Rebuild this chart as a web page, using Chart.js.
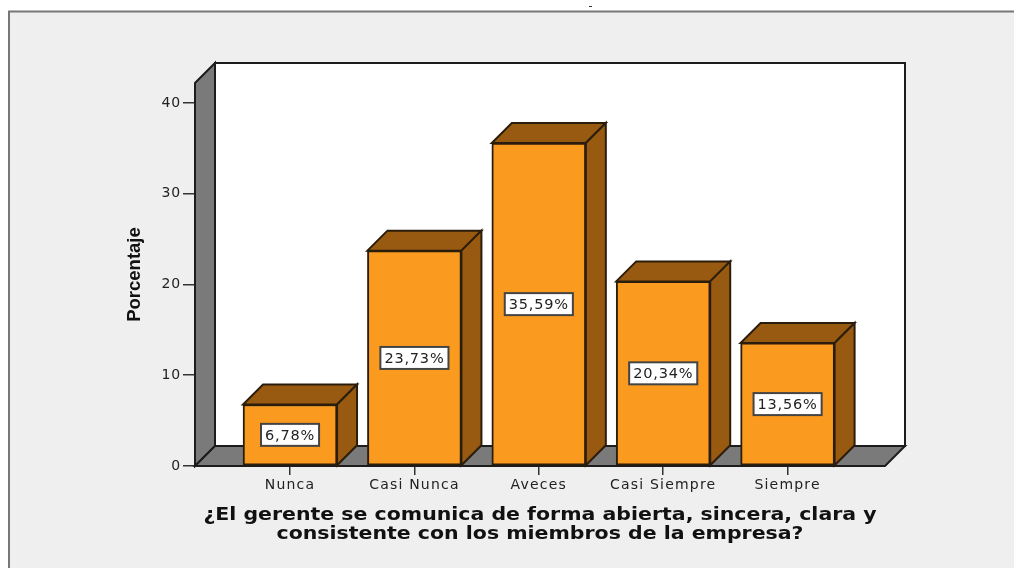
<!DOCTYPE html>
<html><head><meta charset="utf-8">
<script src="https://cdn.jsdelivr.net/npm/chart.js@4"></script>
<style>html,body{margin:0;padding:0;background:#fff}canvas{display:block}</style>
</head><body><canvas id="c" width="1014" height="568"></canvas>
<script>
const categories = ['Nunca','Casi Nunca','Aveces','Casi Siempre','Siempre'];
const percentages = [6.78,23.73,35.59,20.34,13.56];
const yTicks = [0,10,20,30,40];
const xTitleLines = ['¿El gerente se comunica de forma abierta, sincera, clara y','consistente con los miembros de la empresa?'];
const yTitle = 'Porcentaje';

const DEPTH = 20, ORANGE='#FA9A1E', BROWN='#985A10', GRAY='#7A7A7A', LINE='#2B1D0C';

function poly(ctx, pts, fill, stroke, lw){
  ctx.beginPath();
  pts.forEach((p,i)=> i?ctx.lineTo(p[0],p[1]):ctx.moveTo(p[0],p[1]));
  ctx.closePath();
  if(fill){ctx.fillStyle=fill;ctx.fill();}
  if(stroke){ctx.strokeStyle=stroke;ctx.lineWidth=lw||2;ctx.lineJoin='miter';ctx.stroke();}
}
function spaced(scale, method, sp){
  const orig = scale[method];
  scale[method] = function(a){
    const c=this.ctx; c.save(); c.letterSpacing=sp;
    orig.call(this,a);
    c.restore();
  };
}
function stretchedTitle(scale, k){
  const orig = scale.drawTitle;
  scale.drawTitle = function(a){
    const c=this.ctx, cx=(this.left+this.right)/2;
    c.save(); c.translate(cx,0); c.scale(k,1); c.translate(-cx,0);
    orig.call(this,a);
    c.restore();
  };
}
const frame = {
  id:'frame',
  afterLayout(chart){
    if(chart.$spaced) return; chart.$spaced=true;
    spaced(chart.scales.x,'drawLabels','1.2px');
    spaced(chart.scales.y,'drawLabels','0.8px');
    stretchedTitle(chart.scales.x,1.205);
  },
  beforeDraw(chart){
    const ctx=chart.ctx;
    ctx.save();
    ctx.fillStyle='#fff';ctx.fillRect(0,0,1014,568);
    ctx.fillStyle='#EFEFEF';ctx.fillRect(9,11,1005,557);
    ctx.strokeStyle='#777';ctx.lineWidth=2;
    ctx.beginPath();ctx.moveTo(9,568);ctx.lineTo(9,11.5);ctx.lineTo(1014,11.5);ctx.stroke();
    ctx.strokeStyle='#333';ctx.lineWidth=1;
    ctx.beginPath();ctx.moveTo(589,6.5);ctx.lineTo(592,6.5);ctx.stroke();
    ctx.restore();
  }
};
const box3d = {
  id:'box3d',
  beforeDatasetsDraw(chart){
    const ctx=chart.ctx, x=chart.scales.x, y=chart.scales.y, d=DEPTH;
    const L=x.left,R=x.right,T=y.top,B=y.bottom;
    ctx.save();
    poly(ctx,[[L+d,T-d],[R+d,T-d],[R+d,B-d],[L+d,B-d]],'#fff','#1c1c1c',2);
    poly(ctx,[[L,T],[L+d,T-d],[L+d,B-d],[L,B]],GRAY,'#1c1c1c',2);
    poly(ctx,[[L,B],[L+d,B-d],[R+d,B-d],[R,B]],GRAY,'#1c1c1c',2);
    chart.getDatasetMeta(0).data.forEach(b=>{
      const l=b.x-b.width/2,r=b.x+b.width/2,t=b.y,bt=b.base;
      poly(ctx,[[l,t],[l+d,t-d],[r+d,t-d],[r,t]],BROWN,LINE,2);
      poly(ctx,[[r,t],[r+d,t-d],[r+d,bt-d],[r,bt]],BROWN,LINE,2);
    });
    ctx.restore();
  },
  afterDatasetsDraw(chart){
    const ctx=chart.ctx;
    ctx.save();
    ctx.font='14.5px "DejaVu Sans"';
    ctx.letterSpacing='0.8px';
    ctx.textAlign='center';ctx.textBaseline='middle';
    chart.getDatasetMeta(0).data.forEach((b,i)=>{
      const t=percentages[i].toFixed(2).replace('.',',')+'%';
      const w=ctx.measureText(t).width+8, h=22, cy=(b.y+b.base)/2, cx=b.x;
      ctx.fillStyle='#fff';ctx.fillRect(cx-w/2,cy-h/2,w,h);
      ctx.strokeStyle='#444';ctx.lineWidth=2;ctx.strokeRect(cx-w/2,cy-h/2,w,h);
      ctx.fillStyle='#222';ctx.fillText(t,cx,cy+1);
    });
    ctx.restore();
  }
};
new Chart(document.getElementById('c'),{
  type:'bar',
  data:{datasets:[{
    data:percentages.map((v,i)=>({x:i,y:v})),
    backgroundColor:ORANGE,borderColor:LINE,borderWidth:2,borderSkipped:false,
    barThickness:94
  }]},
  plugins:[frame,box3d],
  options:{
    responsive:false,animation:false,
    layout:{padding:{left:124,right:129,top:83,bottom:24}},
    plugins:{legend:{display:false},tooltip:{enabled:false}},
    scales:{
      x:{type:'linear',min:-0.764,max:4.783,offset:false,
        grid:{display:true,offset:false,drawOnChartArea:false,drawTicks:true,tickLength:9,color:'#333',lineWidth:1.5},
        border:{display:false},
        ticks:{stepSize:1,includeBounds:false,maxRotation:0,autoSkip:false,padding:2,color:'#222',
          font:{family:'"DejaVu Sans"',size:14},
          callback:v=>categories[v]},
        title:{display:true,text:xTitleLines,color:'#111',padding:{top:0,bottom:0},
          font:{family:'"DejaVu Sans"',weight:'bold',size:17,lineHeight:1.12}},
        afterFit(s){s.height=78;}
      },
      y:{min:0,max:42.2,
        afterBuildTicks(s){s.ticks=yTicks.map(v=>({value:v}));},
        grid:{display:true,drawOnChartArea:false,tickLength:12,color:'#333',lineWidth:1.5},
        border:{display:false},
        ticks:{padding:2,color:'#222',font:{family:'"DejaVu Sans"',size:14}},
        title:{display:true,text:yTitle,color:'#111',padding:0,
          font:{family:'"Liberation Sans"',weight:'bold',size:18.5}},
        afterFit(s){s.width=71;}
      }
    }
  }
});
</script></body></html>
